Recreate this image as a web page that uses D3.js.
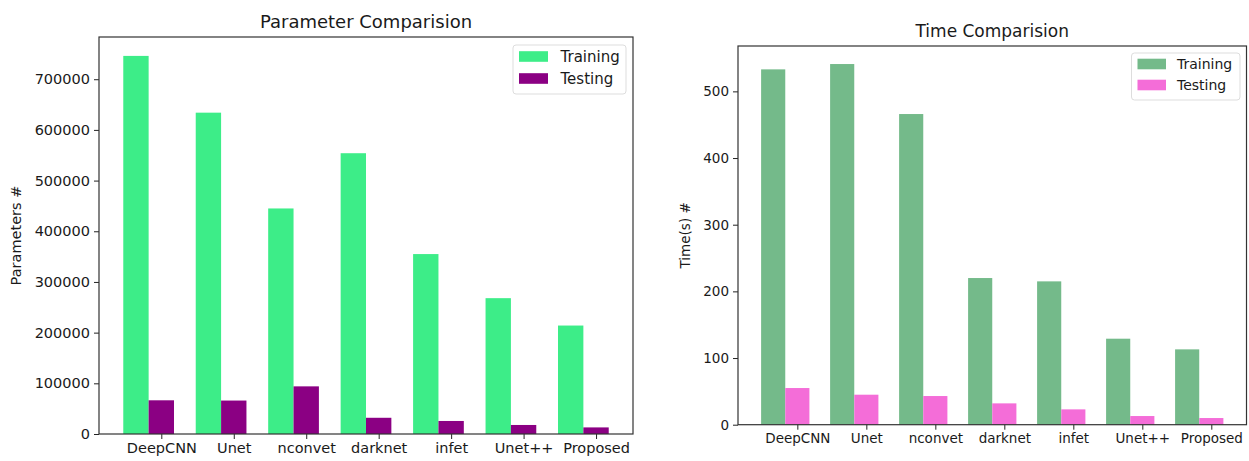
<!DOCTYPE html>
<html>
<head>
<meta charset="utf-8">
<script src="https://cdn.jsdelivr.net/npm/d3@7"></script>
<style>
  body { margin: 0; background: #fff; }
  svg { display: block; font-family: "DejaVu Sans", sans-serif; }
</style>
</head>
<body>
<svg id="chart" width="1249" height="461"></svg>
<script>
const categories = ["DeepCNN", "Unet", "nconvet", "darknet", "infet", "Unet++", "Proposed"];
const paramTraining = [746000, 634000, 445000, 554000, 355000, 268000, 214000];
const paramTesting  = [66500, 66000, 94000, 32000, 25700, 17800, 13000];
const timeTraining  = [533, 541, 466, 220, 215, 129, 113];
const timeTesting   = [55, 45, 43, 32, 23, 13, 10];
const paramTicks = [0, 100000, 200000, 300000, 400000, 500000, 600000, 700000];
const timeTicks  = [0, 100, 200, 300, 400, 500];
const seriesNames = ["Training", "Testing"];

const svg = d3.select("#chart");

function drawPanel(opt) {
  const { left, top, right, bottom, train, test, ticks, colors, title, ylabel,
          titleY, ylabelX, legend, fontTick, fontTitle } = opt;
  const g = svg.append("g");
  const w = 0.35;
  const n = categories.length;
  const dataMin = -w / 2, dataMax = (n - 1) + w + w / 2;
  const pad = (dataMax - dataMin) * 0.05;
  const x = d3.scaleLinear().domain([dataMin - pad, dataMax + pad]).range([left, right]);
  const maxV = d3.max(train.concat(test));
  const y = d3.scaleLinear().domain([0, maxV * 1.05]).range([bottom, top]);

  // bars
  g.selectAll(".tr").data(train).enter().append("rect")
    .attr("x", (d, i) => x(i - w / 2))
    .attr("width", (d, i) => x(i + w / 2) - x(i - w / 2))
    .attr("y", d => y(d))
    .attr("height", d => y(0) - y(d))
    .attr("fill", colors[0]);
  g.selectAll(".te").data(test).enter().append("rect")
    .attr("x", (d, i) => x(i + w / 2))
    .attr("width", (d, i) => x(i + 1.5 * w) - x(i + w / 2))
    .attr("y", d => y(d))
    .attr("height", d => y(0) - y(d))
    .attr("fill", colors[1]);

  // axes
  const yAxis = d3.axisLeft(y).tickValues(ticks).tickSize(5).tickPadding(4).tickFormat(d3.format("d"));
  const ya = g.append("g").attr("transform", `translate(${left},0)`).call(yAxis);
  const xAxis = d3.axisBottom(x).tickValues(d3.range(n).map(i => i + w))
    .tickFormat((d, i) => categories[i]).tickSize(5).tickPadding(4);
  const xa = g.append("g").attr("transform", `translate(0,${bottom})`).call(xAxis);
  [ya, xa].forEach(a => {
    a.select(".domain").remove();
    a.selectAll("line").attr("stroke", "#222").attr("stroke-width", 1);
    a.selectAll("text").attr("fill", "#1a1a1a").style("font-size", fontTick + "px")
      .style("font-family", "DejaVu Sans");
  });

  // frame
  g.append("rect").attr("x", left).attr("y", top)
    .attr("width", right - left).attr("height", bottom - top)
    .attr("fill", "none").attr("stroke", "#333").attr("stroke-width", 1.2);

  // title
  g.append("text").attr("x", (left + right) / 2).attr("y", titleY)
    .attr("text-anchor", "middle").attr("fill", "#1a1a1a")
    .style("font-size", fontTitle + "px").text(title);
  // ylabel
  g.append("text")
    .attr("transform", `translate(${ylabelX},${(top + bottom) / 2}) rotate(-90)`)
    .attr("text-anchor", "middle").attr("fill", "#1a1a1a")
    .style("font-size", fontTick + "px").text(ylabel);

  // legend
  const L = legend;
  g.append("rect").attr("x", L.x).attr("y", L.y).attr("width", L.w).attr("height", L.h)
    .attr("rx", 3).attr("fill", "#fff").attr("stroke", "#ddd").attr("stroke-width", 1);
  seriesNames.forEach((s, i) => {
    const yy = L.y + L.first + i * L.gap;
    g.append("rect").attr("x", L.x + 6).attr("y", yy - 5.3)
      .attr("width", L.pw).attr("height", 10.6).attr("fill", colors[i]);
    g.append("text").attr("x", L.tx).attr("y", yy + 5.2)
      .attr("fill", "#1a1a1a").style("font-size", L.font + "px").text(s);
  });
}

drawPanel({
  left: 99, top: 37, right: 633, bottom: 434,
  train: paramTraining, test: paramTesting, ticks: paramTicks,
  colors: ["#3ded88", "#8b0083"],
  title: "Parameter Comparision", ylabel: "Parameters #",
  titleY: 28, ylabelX: 21, fontTick: 14.5, fontTitle: 18,
  legend: { x: 513, y: 45, w: 113, h: 49, first: 11.5, gap: 22, pw: 29, tx: 560.5, font: 15 }
});

drawPanel({
  left: 738, top: 46, right: 1246.5, bottom: 424.7,
  train: timeTraining, test: timeTesting, ticks: timeTicks,
  colors: ["#74ba8a", "#f46dd8"],
  title: "Time Comparision", ylabel: "Time(s) #",
  titleY: 37, ylabelX: 690, fontTick: 13.5, fontTitle: 17,
  legend: { x: 1131.5, y: 53, w: 108.5, h: 47, first: 11, gap: 21, pw: 28.5, tx: 1177, font: 14 }
});
</script>
</body>
</html>
